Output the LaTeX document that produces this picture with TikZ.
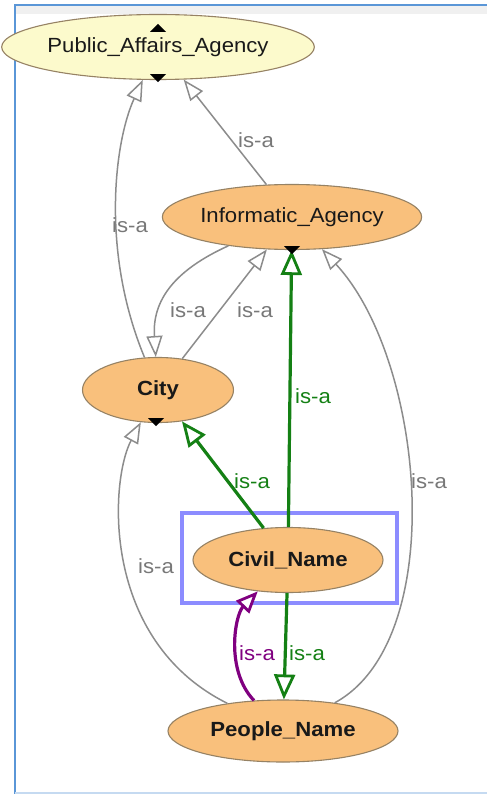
\documentclass[tikz,border=0pt]{standalone}
\usepackage{fontspec}
\setmainfont{Liberation Sans}[FakeStretch=1.08]
\usetikzlibrary{arrows.meta,shapes.geometric}
\definecolor{orangefill}{RGB}{249,192,124}
\definecolor{yellowfill}{RGB}{252,250,204}
\definecolor{nodeborder}{RGB}{150,130,100}
\definecolor{edgegray}{RGB}{140,140,140}
\definecolor{labelgray}{RGB}{120,120,120}
\definecolor{isagreen}{RGB}{20,128,20}
\definecolor{isapurple}{RGB}{128,0,128}
\definecolor{framblue}{RGB}{90,150,215}
\definecolor{hlblue}{RGB}{140,140,255}
\tikzset{
  concept/.style={ellipse, draw=nodeborder, line width=1.1pt, fill=orangefill, inner sep=0pt,
    font=\fontsize{20.5}{22}\selectfont, text=black!90},
  gedge/.style={draw=edgegray, line width=1.5pt, -{Triangle[open, fill=white, length=21pt, width=16pt, line width=1.5pt]}},
  grnedge/.style={draw=isagreen, line width=3.2pt, -{Triangle[open, fill=white, length=25pt, width=21pt, line width=2.8pt]}},
  purpedge/.style={draw=isapurple, line width=3.2pt, -{Triangle[open, fill=white, length=22pt, width=18pt, line width=2.8pt]}},
  lbl/.style={font=\fontsize{20.5}{22}\selectfont, inner sep=0pt},
  marker/.style={fill=black}
}
\begin{document}
\begin{tikzpicture}[x=1pt,y=-1pt]
\useasboundingbox (0,0) rectangle (487,794);
\fill[white] (0,0) rectangle (487,794);
% frame
\fill[black!6] (15,5) rectangle (487,14);
\draw[framblue, line width=2pt] (15,794) -- (15,5) -- (487,5);
\draw[framblue!35, line width=2pt] (15,792.5) -- (487,792.5);

% nodes
\node[concept, fill=yellowfill, minimum width=287pt, minimum height=65pt] (paa) at (158,47) {Public\_Affairs\_Agency};
\node[concept, minimum width=249pt, minimum height=65pt] (ia) at (292,217) {Informatic\_Agency};
\node[concept, minimum width=151pt, minimum height=65pt, font=\fontsize{20.5}{22}\selectfont\bfseries] (city) at (158,390) {City};
\node[concept, minimum width=190pt, minimum height=65pt, font=\fontsize{20.5}{22}\selectfont\bfseries] (civil) at (288,560) {Civil\_Name};
\node[concept, minimum width=230pt, minimum height=62pt, font=\fontsize{20.5}{22}\selectfont\bfseries] (pn) at (283,731) {People\_Name};

% highlight box
\draw[hlblue, line width=4pt] (182,513) rectangle (397,603);

% markers
\fill[marker] ([yshift=-18pt]paa.north) ++(-8,0) -- ++(16,0) -- ++(-8,-8) -- cycle;
\fill[marker] ([yshift=6pt]paa.south) ++(-8,0) -- ++(16,0) -- ++(-8,8) -- cycle;

% gray edges
\draw[gedge] (city) .. controls (100,250) and (115,140) .. (paa);
\draw[gedge] (ia) -- (paa);
\draw[gedge] (ia) .. controls (175,270) and (152,300) .. (city);
\draw[gedge] (city) -- (ia);
\draw[gedge] (pn) .. controls (450,640) and (425,360) .. (ia);
\draw[gedge] (pn) .. controls (100,640) and (110,480) .. (city);

% colored edges
\draw[grnedge] (civil) -- (ia);
\draw[grnedge] (civil) -- (city);
\draw[grnedge] (civil) -- (pn);
\draw[purpedge] (pn) .. controls (225,670) and (235,615) .. (civil);

% markers drawn over edges
\fill[marker] ([yshift=4pt]ia.south) ++(-8,0) -- ++(16,0) -- ++(-8,8) -- cycle;
\fill[marker] ([yshift=5pt]city.south) ++(-10,0) -- ++(16,0) -- ++(-8,8) -- cycle;

% labels
\node[lbl, text=labelgray] (l1) at (130,225) {is-a};
\node[lbl, text=labelgray] (l2) at (256,140) {is-a};
\node[lbl, text=labelgray] (l3) at (188,310) {is-a};
\node[lbl, text=labelgray] (l4) at (255,310) {is-a};
\node[lbl, text=labelgray] (l5) at (429,481) {is-a};
\node[lbl, text=labelgray] (l6) at (156,566) {is-a};
\node[lbl, text=isagreen] (l7) at (313,396) {is-a};
\node[lbl, text=isagreen] (l8) at (252,481) {is-a};
\node[lbl, text=isagreen] (l9) at (307,653) {is-a};
\node[lbl, text=isapurple] (l10) at (257,653) {is-a};
\end{tikzpicture}
\end{document}
